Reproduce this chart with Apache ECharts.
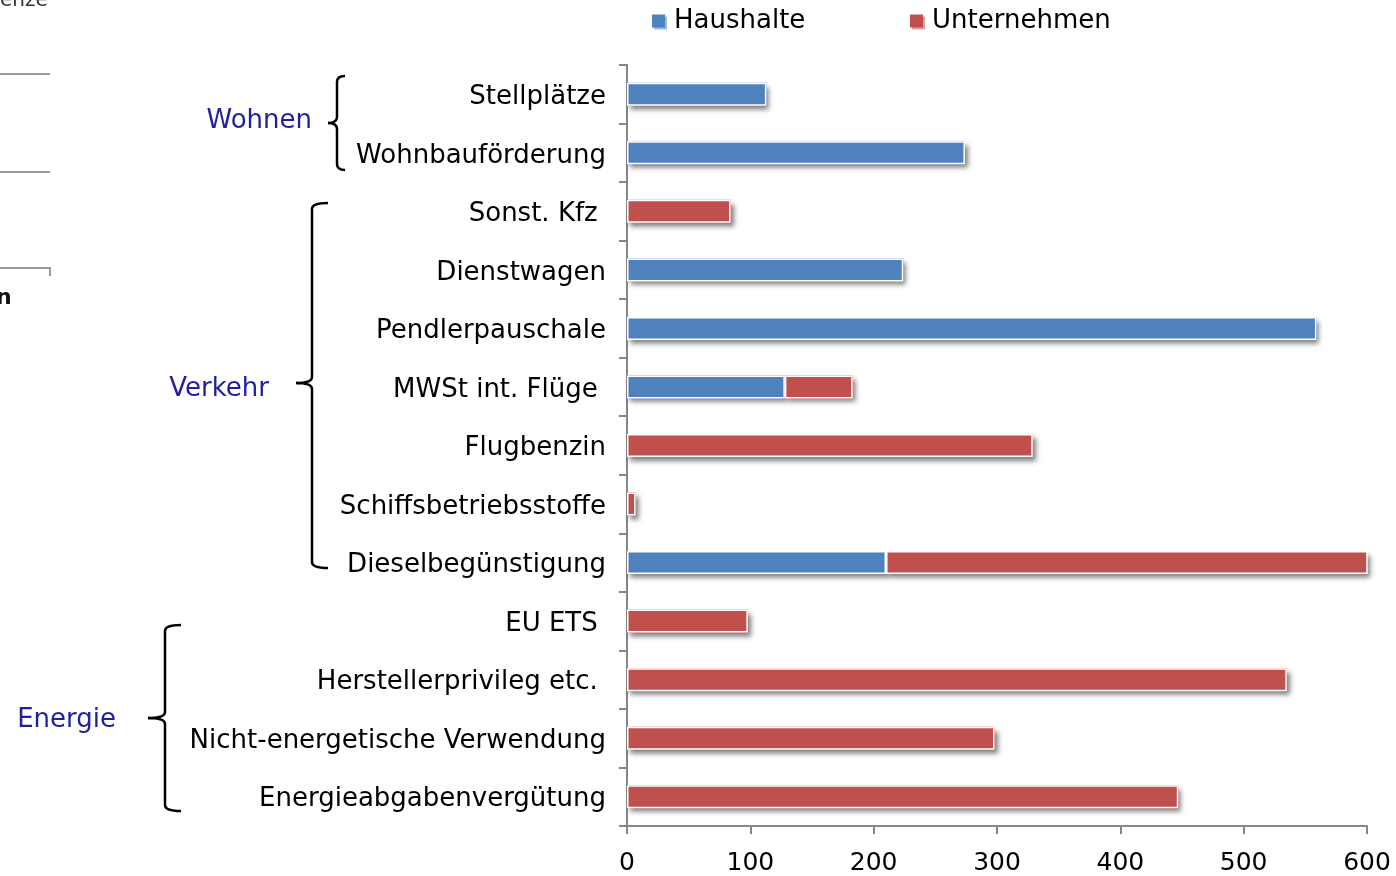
<!DOCTYPE html>
<html>
<head>
<meta charset="utf-8">
<script src="https://cdn.jsdelivr.net/npm/echarts@6/dist/echarts.min.js"></script>
<style>
  html, body { margin: 0; padding: 0; background: #fff; }
  #chart { width: 1396px; height: 876px; }
</style>
</head>
<body>
<div id="chart"></div>
<script>
// Subventionen nach Bereich, aufgeteilt auf Haushalte und Unternehmen
const categories = [
  'Stellplätze', 'Wohnbauförderung', 'Sonst. Kfz ', 'Dienstwagen', 'Pendlerpauschale',
  'MWSt int. Flüge ', 'Flugbenzin', 'Schiffsbetriebsstoffe', 'Dieselbegünstigung',
  'EU ETS ', 'Herstellerprivileg etc. ', 'Nicht-energetische Verwendung', 'Energieabgabenvergütung'
];
const haushalte   = [113, 274, null, 224, 559, 128, null, null, 210, null, null, null, null];
const unternehmen = [null, null, 84, null, null, 55, 329, 7, 400, 98, 535, 298, 447];
const seriesNames = ['Haushalte', 'Unternehmen'];
const xTicks = { min: 0, max: 600, interval: 100 };
const groupNames = ['Wohnen', 'Verkehr', 'Energie'];

const FONT = 'DejaVu Sans';
const BLUE = '#4F81BD';
const RED = '#C0504D';
const AXIS = '#868686';

// Geschweifte Klammer aus Linien und Kurven: offene Seite rechts, Spitze links
function brace(xEnd, xLine, xTip, yTop, yMid, yBot) {
  const r = 6;
  const st = { stroke: '#000', lineWidth: 2.5, fill: null };
  const curve = (x1, y1, x2, y2, cx, cy) => ({
    type: 'bezierCurve', silent: true,
    shape: { x1: x1, y1: y1, x2: x2, y2: y2, cpx1: cx, cpy1: cy }, style: st
  });
  const line = (x1, y1, x2, y2) => ({
    type: 'line', silent: true, shape: { x1: x1, y1: y1, x2: x2, y2: y2 }, style: st
  });
  return {
    type: 'group', silent: true,
    children: [
      curve(xEnd, yTop, xLine, yTop + r, xLine, yTop),
      line(xLine, yTop + r, xLine, yMid - r),
      curve(xLine, yMid - r, xTip, yMid, xLine, yMid),
      curve(xTip, yMid, xLine, yMid + r, xLine, yMid),
      line(xLine, yMid + r, xLine, yBot - r),
      curve(xLine, yBot - r, xEnd, yBot, xLine, yBot)
    ]
  };
}
function groupLabel(text, x, y) {
  return {
    type: 'text', silent: true, x: x, y: y,
    style: { text: text, font: `26px "${FONT}"`, fill: '#1F1FA0', align: 'right', verticalAlign: 'middle' }
  };
}

// Schattenebene unter den Balken, damit der Schatten nicht in die Fläche fällt
const shadowStyle = (color) => ({
  color: color,
  borderWidth: 0,
  shadowColor: 'rgba(0,0,0,0.5)',
  shadowBlur: 5,
  shadowOffsetX: 3,
  shadowOffsetY: 4
});
const barStyle = (color) => ({
  color: color,
  borderColor: '#fff',
  borderWidth: 1.5
});
const legendText = { fontSize: 26, color: '#000', fontFamily: FONT, padding: [0, 0, 0, 4] };
const legendIcon = (color, light) => ({
  color: color, borderWidth: 0, shadowBlur: 0,
  shadowColor: light, shadowOffsetX: 2, shadowOffsetY: 2
});

const chart = echarts.init(document.getElementById('chart'), null, { renderer: 'canvas' });
chart.setOption({
  animation: false,
  backgroundColor: '#fff',
  textStyle: { fontFamily: FONT, color: '#000' },
  grid: { left: 627, right: 29, top: 65, bottom: 49, containLabel: false },
  legend: [
    {
      data: [seriesNames[0]], left: 647, top: 3, icon: 'rect', itemWidth: 13, itemHeight: 13,
      itemGap: 0, textStyle: legendText, itemStyle: legendIcon(BLUE, 'rgba(79,129,189,0.55)')
    },
    {
      data: [seriesNames[1]], left: 905, top: 3, icon: 'rect', itemWidth: 13, itemHeight: 13,
      itemGap: 0, textStyle: legendText, itemStyle: legendIcon(RED, 'rgba(192,80,77,0.55)')
    }
  ],
  xAxis: {
    type: 'value',
    min: xTicks.min, max: xTicks.max, interval: xTicks.interval,
    axisLine: { show: true, lineStyle: { color: AXIS, width: 2 } },
    axisTick: { show: true, length: 8, lineStyle: { color: AXIS, width: 2 } },
    splitLine: { show: false },
    axisLabel: { fontSize: 25, color: '#000', margin: 25, fontFamily: FONT }
  },
  yAxis: {
    type: 'category',
    inverse: true,
    data: categories,
    axisLine: { show: true, lineStyle: { color: AXIS, width: 2 } },
    axisTick: { show: true, length: 8, lineStyle: { color: AXIS, width: 2 } },
    axisLabel: {
      margin: 21,
      formatter: (v) => '{c|' + v + '}',
      rich: { c: { fontSize: 26, color: '#000', fontFamily: FONT, padding: [6, 0, 0, 0] } }
    }
  },
  series: [
    {
      name: 'schatten-h', type: 'bar', stack: 'schatten', barWidth: 23,
      data: haushalte, itemStyle: shadowStyle(BLUE), clip: true, silent: true
    },
    {
      name: 'schatten-u', type: 'bar', stack: 'schatten', barWidth: 23,
      data: unternehmen, itemStyle: shadowStyle(RED), clip: true, silent: true
    },
    {
      name: seriesNames[0], type: 'bar', stack: 'total', barWidth: 23, barGap: '-100%',
      data: haushalte, itemStyle: barStyle(BLUE), clip: true
    },
    {
      name: seriesNames[1], type: 'bar', stack: 'total', barWidth: 23, barGap: '-100%',
      data: unternehmen, itemStyle: barStyle(RED), clip: true
    }
  ],
  graphic: [
    brace(345, 337, 328, 76, 123, 170),
    brace(328, 312, 296, 203, 383, 568),
    brace(181, 165, 148, 625, 718, 811),
    groupLabel(groupNames[0], 312, 121),
    groupLabel(groupNames[1], 269, 389),
    groupLabel(groupNames[2], 116, 720),
    // Reste der Nachbarfolie am linken Rand
    { type: 'text', silent: true, x: 0, y: 11,
      style: { text: 'enze', font: `20px "${FONT}"`, fill: '#333', verticalAlign: 'bottom' } },
    { type: 'line', silent: true, shape: { x1: 0, y1: 74, x2: 50, y2: 74 }, style: { stroke: '#999', lineWidth: 2 } },
    { type: 'line', silent: true, shape: { x1: 0, y1: 172, x2: 50, y2: 172 }, style: { stroke: '#999', lineWidth: 2 } },
    { type: 'polyline', silent: true, shape: { points: [[0, 268], [50, 268], [50, 276]] }, style: { fill: null, stroke: '#999', lineWidth: 2 } },
    { type: 'text', silent: true, x: -4, y: 298,
      style: { text: 'n', font: `bold 22px "${FONT}"`, fill: '#111', verticalAlign: 'middle' } }
  ]
});
</script>
</body>
</html>
